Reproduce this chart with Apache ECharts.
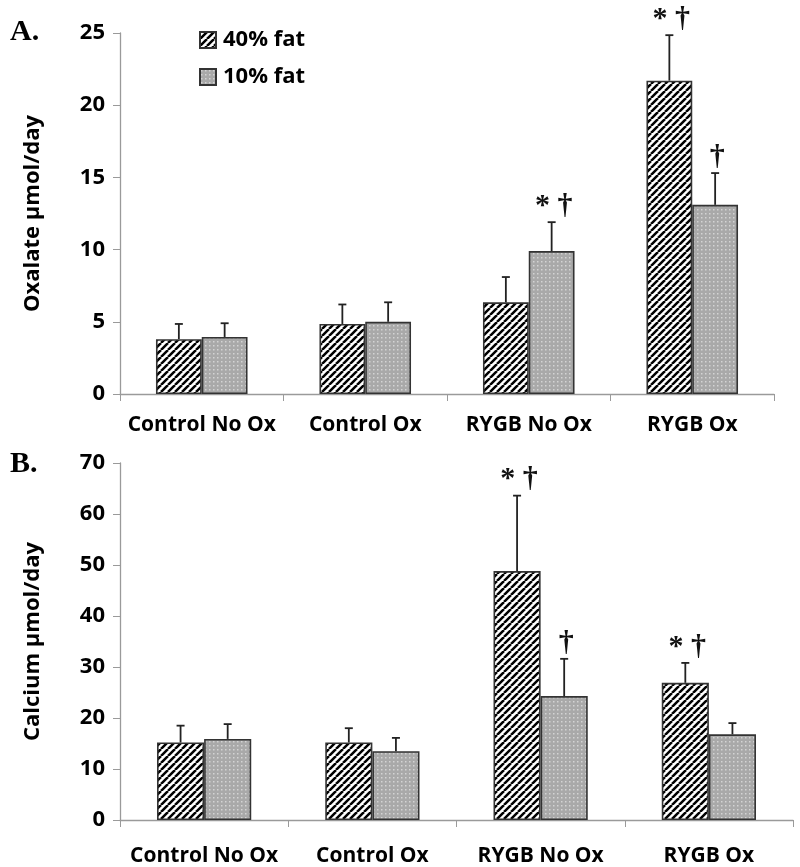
<!DOCTYPE html>
<html>
<head>
<meta charset="utf-8">
<script src="https://cdn.jsdelivr.net/npm/echarts@6/dist/echarts.min.js"></script>
<style>
html,body{margin:0;padding:0;background:#fff;}
#chart{width:800px;height:867px;}
</style>
</head>
<body>
<div id="chart"></div>
<script>
// ---- data ----
const categories = ['Control No Ox', 'Control Ox', 'RYGB No Ox', 'RYGB Ox'];
const seriesNames = ['40% fat', '10% fat'];
// Panel A: Oxalate µmol/day
const oxFat40 = [3.8, 4.85, 6.35, 21.7];
const oxFat40Err = [1.05, 1.35, 1.75, 3.15];
const oxFat10 = [3.95, 5.0, 9.9, 13.1];
const oxFat10Err = [0.95, 1.35, 2.0, 2.2];
const oxFat40Sig = ['', '', '', '* \u2020'];
const oxFat10Sig = ['', '', '* \u2020', '\u2020'];
const oxTicks = [0, 5, 10, 15, 20, 25];
// Panel B: Calcium µmol/day
const caFat40 = [15.2, 15.2, 48.8, 26.9];
const caFat40Err = [3.3, 2.8, 14.8, 3.9];
const caFat10 = [15.9, 13.5, 24.3, 16.8];
const caFat10Err = [2.9, 2.6, 7.3, 2.2];
const caFat40Sig = ['', '', '* \u2020', '* \u2020'];
const caFat10Sig = ['', '', '\u2020', ''];
const caTicks = [0, 10, 20, 30, 40, 50, 60, 70];

// ---- patterns ----
function hatchPattern() {
  const s = 7;
  const c = document.createElement('canvas');
  c.width = s; c.height = s;
  const g = c.getContext('2d');
  g.fillStyle = '#ffffff';
  g.fillRect(0, 0, s, s);
  g.strokeStyle = '#000000';
  g.lineWidth = 2.5;
  g.beginPath();
  for (const k of [-s, 0, s]) {
    g.moveTo(k, s);
    g.lineTo(k + s, 0);
  }
  g.stroke();
  return c;
}
function dotPattern() {
  const s = 4;
  const c = document.createElement('canvas');
  c.width = s; c.height = s;
  const g = c.getContext('2d');
  g.fillStyle = '#a9a9a9';
  g.fillRect(0, 0, s, s);
  g.fillStyle = '#d4d4d4';
  g.fillRect(1, 1, 1.5, 1.5);
  return c;
}
const hatch = { image: hatchPattern(), repeat: 'repeat' };
const dots = { image: dotPattern(), repeat: 'repeat' };

const FONT = '"Open Sans", "Liberation Sans", sans-serif';
const SERIF = '"Liberation Serif", "DejaVu Serif", serif';

function errRender(side, sigArr) {
  return function (params, api) {
    const x = api.value(0), v = api.value(1), e = api.value(2);
    const base = api.coord([x, v]);
    const top = api.coord([x, v + e]);
    const cw = api.size([1, 0])[0];
    const cx = base[0] + side * cw * 0.14;
    const sty = { stroke: '#222', lineWidth: 1.8 };
    const children = [
      { type: 'line', shape: { x1: cx, y1: base[1], x2: cx, y2: top[1] }, style: sty },
      { type: 'line', shape: { x1: cx - 4, y1: top[1], x2: cx + 4, y2: top[1] }, style: sty }
    ];
    const sig = sigArr[params.dataIndex];
    if (sig) {
      children.push({
        type: 'text',
        style: {
          text: sig, x: cx + 2, y: top[1] - 1,
          align: 'center', verticalAlign: 'bottom',
          font: 'bold 30px ' + SERIF, fill: '#111'
        }
      });
    }
    return { type: 'group', children: children };
  };
}

function xAxis(gridIndex, margin) {
  return {
    type: 'category', gridIndex: gridIndex, data: categories,
    axisLine: { lineStyle: { color: '#9a9a9a', width: 1.3 } },
    axisTick: { show: true, length: 7, alignWithLabel: false, lineStyle: { color: '#9a9a9a' } },
    axisLabel: { interval: 0, color: '#000', fontFamily: FONT, fontWeight: 'bold', fontSize: 21, margin: margin }
  };
}
function yAxis(gridIndex, max, interval, name) {
  return {
    type: 'value', gridIndex: gridIndex, min: 0, max: max, interval: interval,
    name: name, nameLocation: 'middle', nameGap: 76, nameRotate: 90,
    nameTextStyle: { color: '#000', fontFamily: FONT, fontWeight: 'bold', fontSize: 22 },
    splitLine: { show: false },
    axisLine: { show: true, lineStyle: { color: '#9a9a9a', width: 1.3 } },
    axisTick: { show: true, inside: false, length: 7, lineStyle: { color: '#9a9a9a' } },
    axisLabel: { color: '#000', fontFamily: FONT, fontWeight: 'bold', fontSize: 22, margin: 15 }
  };
}

function barSeries(name, data, color, xi, yi) {
  return {
    name: name, type: 'bar', xAxisIndex: xi, yAxisIndex: yi, data: data,
    barWidth: '28%', barGap: '0%',
    itemStyle: { color: color, borderColor: '#333', borderWidth: 1.6 },
    emphasis: { disabled: true }
  };
}
function errSeries(name, vals, errs, sig, side, xi, yi) {
  return {
    name: name, type: 'custom', xAxisIndex: xi, yAxisIndex: yi,
    data: vals.map((v, i) => [i, v, errs[i]]),
    encode: { x: 0, y: 1 },
    renderItem: errRender(side, sig), z: 5, silent: true
  };
}

const chart = echarts.init(document.getElementById('chart'), null, { renderer: 'canvas' });
chart.setOption({
  animation: false,
  backgroundColor: '#fff',
  title: [
    { text: 'A.', left: 5, top: 12, textStyle: { fontFamily: SERIF, fontWeight: 'bold', fontSize: 30, color: '#000' } },
    { text: 'B.', left: 5, top: 444, textStyle: { fontFamily: SERIF, fontWeight: 'bold', fontSize: 30, color: '#000' } }
  ],
  legend: {
    data: seriesNames, orient: 'vertical', left: 194, top: 24,
    itemWidth: 16, itemHeight: 16, itemGap: 15, icon: 'rect',
    textStyle: { color: '#000', fontFamily: FONT, fontWeight: 'bold', fontSize: 22, padding: [0, 0, 0, 2] }
  },
  grid: [
    { left: 120, right: 26, top: 33, height: 361 },
    { left: 120, right: 7, top: 463, height: 357 }
  ],
  xAxis: [xAxis(0, 21), xAxis(1, 26)],
  yAxis: [
    yAxis(0, oxTicks[oxTicks.length - 1], oxTicks[1] - oxTicks[0], 'Oxalate \u00b5mol/day'),
    yAxis(1, caTicks[caTicks.length - 1], caTicks[1] - caTicks[0], 'Calcium \u00b5mol/day')
  ],
  series: [
    barSeries(seriesNames[0], oxFat40, hatch, 0, 0),
    barSeries(seriesNames[1], oxFat10, dots, 0, 0),
    errSeries(seriesNames[0], oxFat40, oxFat40Err, oxFat40Sig, -1, 0, 0),
    errSeries(seriesNames[1], oxFat10, oxFat10Err, oxFat10Sig, 1, 0, 0),
    barSeries(seriesNames[0], caFat40, hatch, 1, 1),
    barSeries(seriesNames[1], caFat10, dots, 1, 1),
    errSeries(seriesNames[0], caFat40, caFat40Err, caFat40Sig, -1, 1, 1),
    errSeries(seriesNames[1], caFat10, caFat10Err, caFat10Sig, 1, 1, 1)
  ]
});
</script>
</body>
</html>
